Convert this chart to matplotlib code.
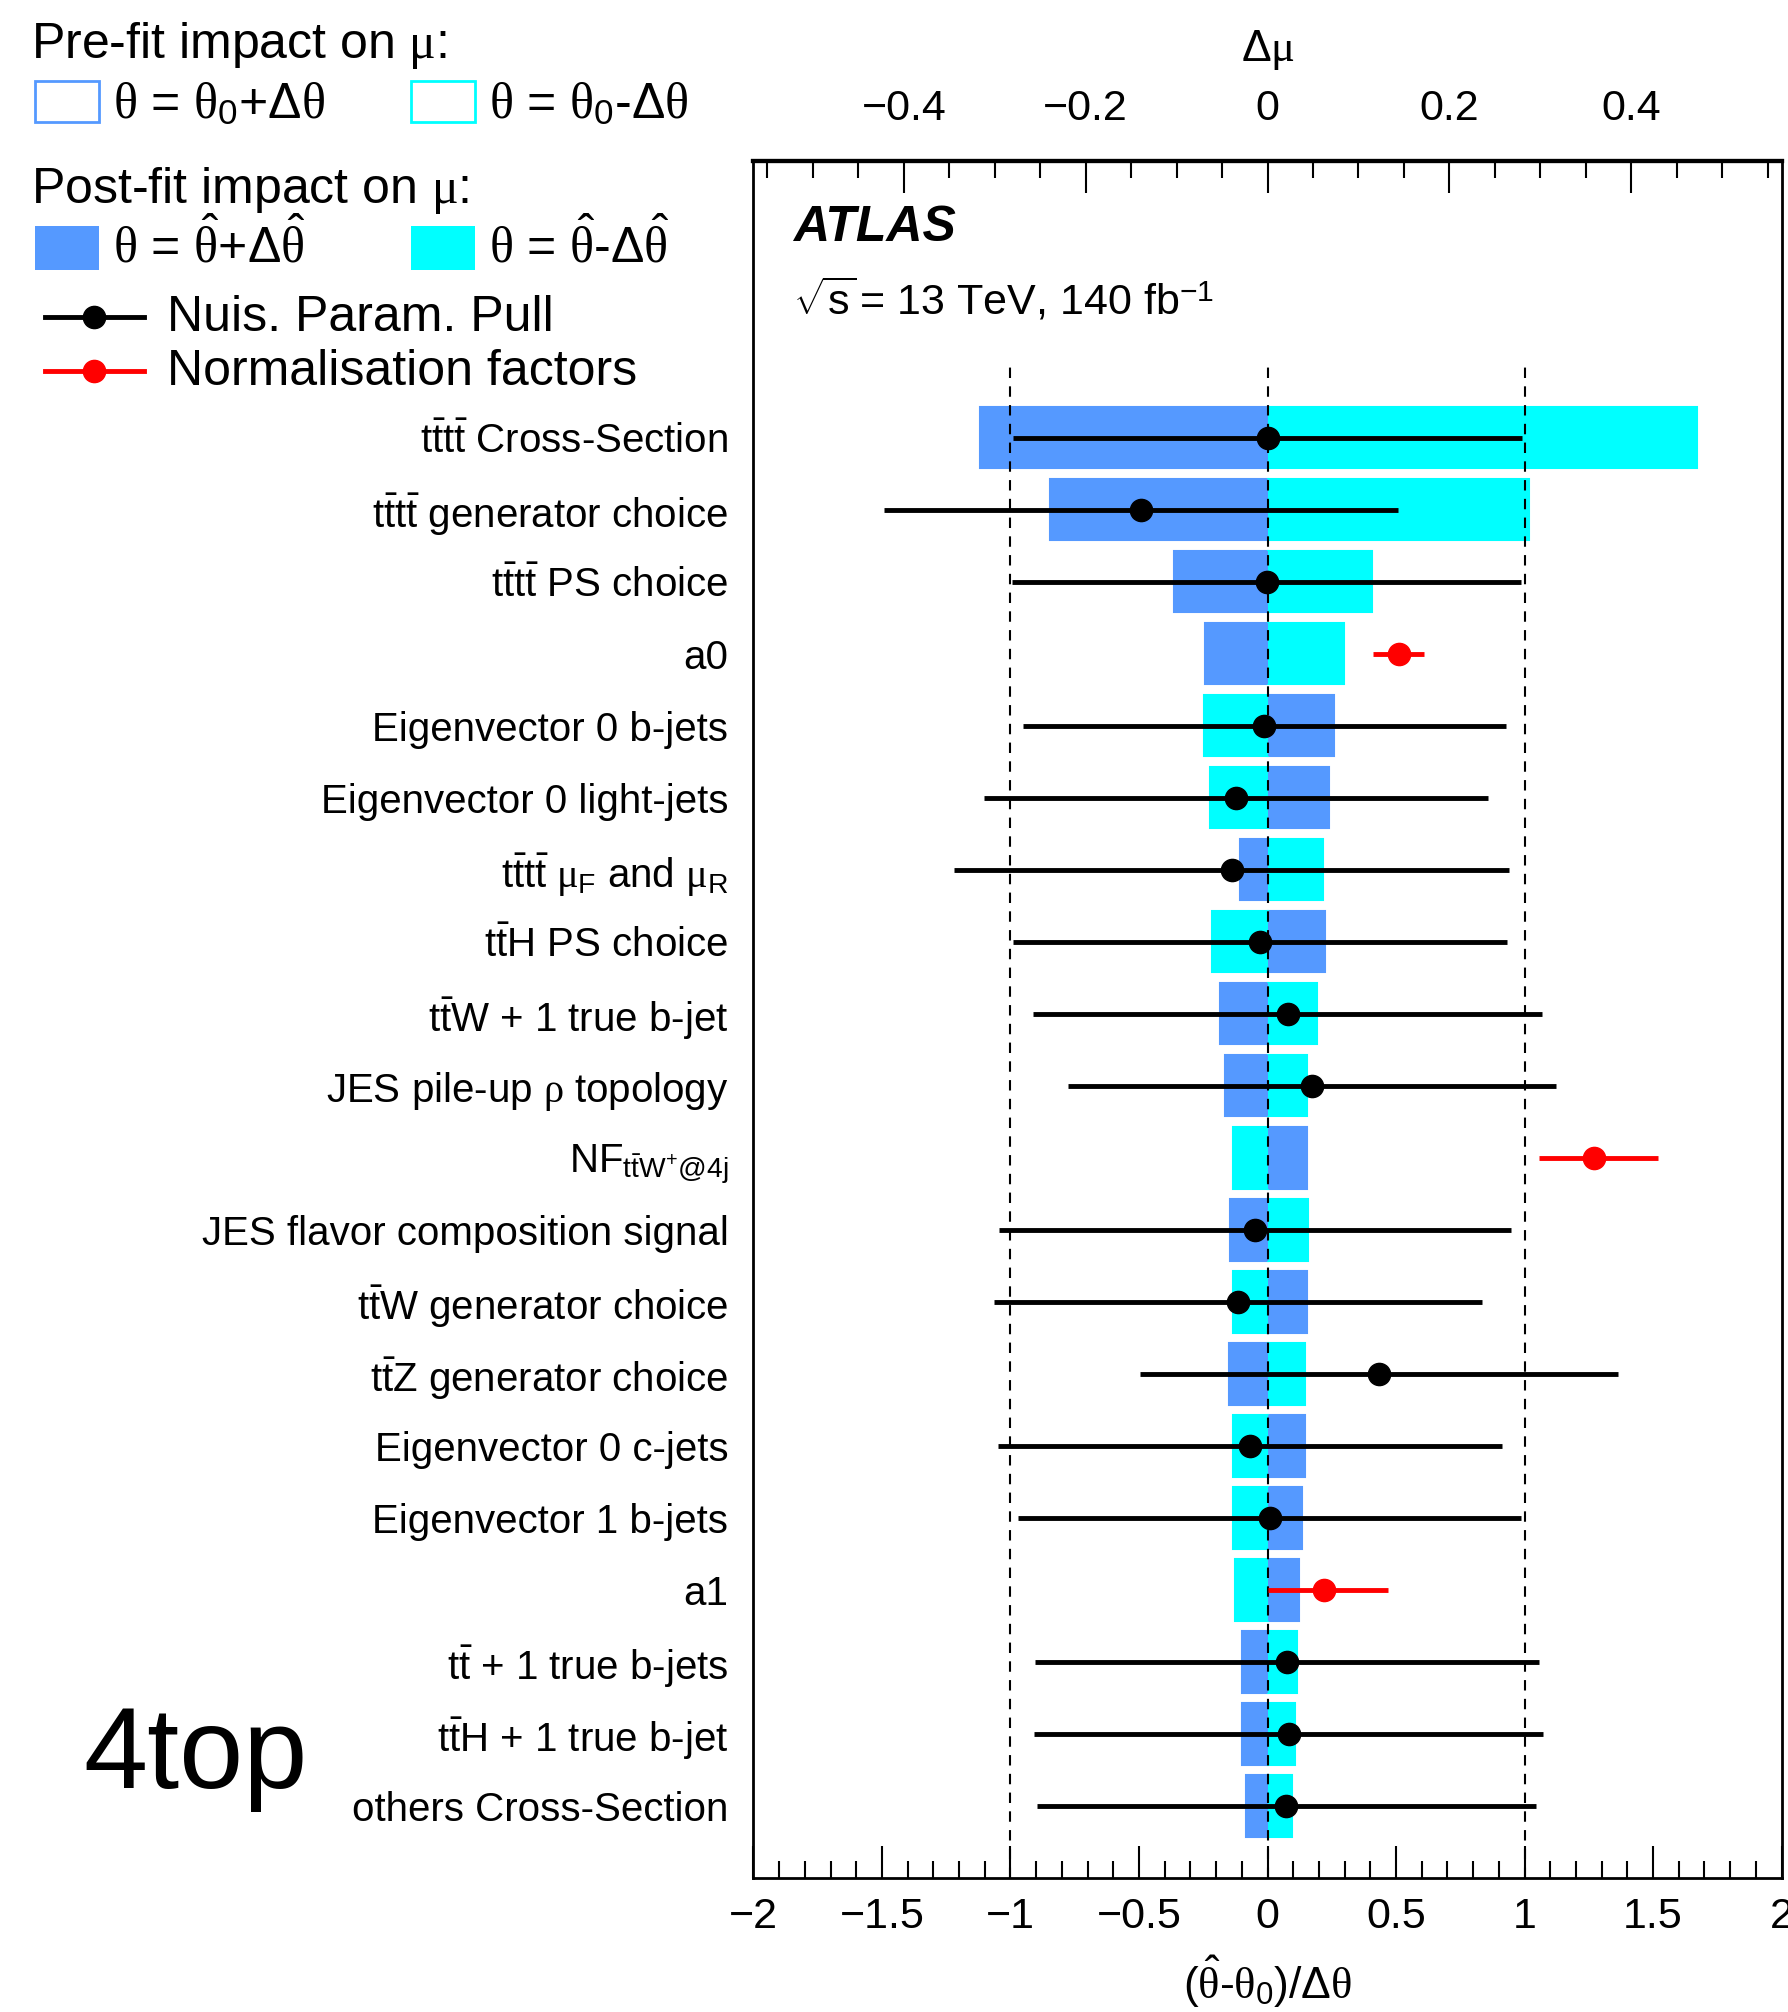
import numpy as np
import matplotlib.pyplot as plt
from matplotlib.patches import Rectangle
from matplotlib.lines import Line2D
from matplotlib.ticker import MultipleLocator, FixedLocator, FuncFormatter

plt.rcParams['font.family'] = ['Liberation Sans', 'DejaVu Sans']
plt.rcParams['mathtext.fontset'] = 'custom'
plt.rcParams['mathtext.rm'] = 'Liberation Sans'
plt.rcParams['mathtext.it'] = 'Liberation Serif'
plt.rcParams['mathtext.bf'] = 'Liberation Sans:bold'

# nuisance parameters, ranked from top to bottom
labels = [
    r'$\mathrm{t\bar{t}t\bar{t}}$ Cross-Section',
    r'$\mathrm{t\bar{t}t\bar{t}}$ generator choice',
    r'$\mathrm{t\bar{t}t\bar{t}}$ PS choice',
    'a0',
    'Eigenvector 0 b-jets',
    'Eigenvector 0 light-jets',
    r'$\mathrm{t\bar{t}t\bar{t}}\ \mu_{\mathrm{F}}$ and $\mu_{\mathrm{R}}$',
    r'$\mathrm{t\bar{t}H}$ PS choice',
    r'$\mathrm{t\bar{t}W}$ + 1 true b-jet',
    r'JES pile-up $\rho$ topology',
    r'$\mathrm{NF}_{\mathrm{t\bar{t}W^{+}@4j}}$',
    'JES flavor composition signal',
    r'$\mathrm{t\bar{t}W}$ generator choice',
    r'$\mathrm{t\bar{t}Z}$ generator choice',
    'Eigenvector 0 c-jets',
    'Eigenvector 1 b-jets',
    'a1',
    r'$\mathrm{t\bar{t}}$ + 1 true b-jets',
    r'$\mathrm{t\bar{t}H}$ + 1 true b-jet',
    'others Cross-Section',
]

# impact on mu (delta mu)
postfit_up = [-0.316, -0.239, -0.103, -0.069, 0.074, 0.068, -0.030, 0.063, -0.052, -0.047,
              0.043, -0.041, 0.043, -0.043, 0.041, 0.038, 0.035, -0.028, -0.028, -0.024]
postfit_dn = [0.472, 0.288, 0.115, 0.084, -0.071, -0.063, 0.061, -0.061, 0.054, 0.043,
              -0.038, 0.044, -0.038, 0.041, -0.038, -0.038, -0.036, 0.032, 0.030, 0.027]
prefit_up = [-0.316, -0.239, -0.103, -0.069, 0.073, 0.068, -0.030, 0.063, -0.052, -0.047,
             0.043, -0.041, 0.043, -0.042, 0.041, 0.038, 0.035, -0.028, -0.028, -0.024]
prefit_dn = [0.472, 0.288, 0.115, 0.084, -0.070, -0.063, 0.061, -0.061, 0.054, 0.043,
             -0.038, 0.044, -0.038, 0.041, -0.038, -0.038, -0.036, 0.032, 0.030, 0.027]

# pulls (nan for normalisation factors)
nan = np.nan
pull = [0.0, -0.492, -0.003, nan, -0.013, -0.122, -0.140, -0.029, 0.078, 0.172,
        nan, -0.049, -0.114, 0.432, -0.068, 0.008, nan, 0.075, 0.083, 0.073]
pull_err = [0.99, 1.0, 0.99, nan, 0.94, 0.98, 1.08, 0.96, 0.99, 0.95,
            nan, 0.995, 0.95, 0.93, 0.98, 0.98, nan, 0.98, 0.99, 0.97]

# normalisation factors
nf_rows = [3, 10, 16]
nf_val = [0.51, 1.272, 0.218]
nf_lo = [0.10, 0.216, 0.218]
nf_hi = [0.10, 0.249, 0.25]

blue = '#5599ff'
cyan = '#00ffff'
mu_scale = 0.2827  # delta mu per unit of the pull axis

n = len(labels)
ypos = np.arange(n)[::-1]

fig = plt.figure(figsize=(17.88, 20.12), dpi=100)
ax = fig.add_axes([0.4214, 0.0666, 0.575, 0.8536])

bh = 0.85
ax.barh(ypos, np.array(prefit_up) / mu_scale, height=bh, facecolor='none', edgecolor=blue, lw=1.5, zorder=1)
ax.barh(ypos, np.array(prefit_dn) / mu_scale, height=bh, facecolor='none', edgecolor=cyan, lw=1.5, zorder=1)
ax.barh(ypos, np.array(postfit_up) / mu_scale, height=bh, color=blue, lw=0, zorder=2)
ax.barh(ypos, np.array(postfit_dn) / mu_scale, height=bh, color=cyan, lw=0, zorder=2)

ax.vlines([-1, 0, 1], -1, 20, colors='k', linestyles=(0, (5, 4)), lw=1.5, zorder=3)

ax.errorbar(pull, ypos, xerr=pull_err, fmt='o', color='k', ms=16, elinewidth=3.5,
            capsize=0, zorder=4)
ax.errorbar(nf_val, ypos[nf_rows], xerr=[nf_lo, nf_hi], fmt='o', color='red', ms=16,
            elinewidth=3.5, capsize=0, zorder=4)

ax.set_xlim(-2, 2)
ax.set_ylim(-1, 22.85)

fmt = FuncFormatter(lambda v, _: ('%g' % round(v, 3)).replace('-', '\u2212'))
ax.xaxis.set_major_locator(MultipleLocator(0.5))
ax.xaxis.set_minor_locator(MultipleLocator(0.1))
ax.xaxis.set_major_formatter(fmt)
ax.tick_params(axis='x', which='both', direction='in', top=False, bottom=True,
               labelsize=31, pad=14, width=1.5)
ax.tick_params(axis='x', which='major', length=23)
ax.tick_params(axis='x', which='minor', length=12)
ax.set_yticks(ypos)
ax.set_yticklabels(labels)
ax.tick_params(axis='y', length=0, pad=18, labelsize=29)
ax.set_xlabel(r'$(\hat{\theta}$-$\theta_{\mathrm{0}})/\Delta\theta$', fontsize=32, labelpad=12)
for s in ['left', 'bottom', 'right']:
    ax.spines[s].set_linewidth(2)
ax.spines['top'].set_linewidth(3)

sec = ax.secondary_xaxis('top', functions=(lambda x: x * mu_scale, lambda x: x / mu_scale))
sec.xaxis.set_major_locator(FixedLocator([-0.4, -0.2, 0, 0.2, 0.4]))
sec.xaxis.set_minor_locator(MultipleLocator(0.05))
sec.xaxis.set_major_formatter(fmt)
sec.tick_params(axis='x', which='both', direction='in', labelsize=31, pad=23, width=1.5)
sec.tick_params(axis='x', which='major', length=23)
sec.tick_params(axis='x', which='minor', length=12)
sec.spines['top'].set_linewidth(3)
sec.set_xlabel(r'$\Delta\mu$', fontsize=32, labelpad=20)

fig.text(0.4435, 0.8802, 'ATLAS', fontsize=36, fontweight='bold', fontstyle='italic', va='baseline')
fig.text(0.4435, 0.8439, r'$\sqrt{\mathrm{s}}\,$= 13 TeV, 140 fb$^{\mathrm{-1}}$', fontsize=31, va='baseline')

# legend drawn in figure pixels
lg = fig.add_axes([0, 0, 1, 1])
lg.set_xlim(0, 1788)
lg.set_ylim(2012, 0)
lg.axis('off')
lg.patch.set_alpha(0)

lfs = 36
lg.text(31, 58, r'Pre-fit impact on $\mu$:', fontsize=lfs, va='baseline')
lg.add_patch(Rectangle((35, 81), 64, 41, facecolor='none', edgecolor=blue, lw=2))
lg.text(113, 118, r'$\theta$ = $\theta_{\mathrm{0}}$+$\Delta\theta$', fontsize=lfs, va='baseline')
lg.add_patch(Rectangle((411, 81), 64, 41, facecolor='none', edgecolor=cyan, lw=2))
lg.text(489, 118, r'$\theta$ = $\theta_{\mathrm{0}}$-$\Delta\theta$', fontsize=lfs, va='baseline')

lg.text(31, 203, r'Post-fit impact on $\mu$:', fontsize=lfs, va='baseline')
lg.add_patch(Rectangle((35, 226), 64, 44, facecolor=blue, edgecolor='none'))
lg.text(113, 262, r'$\theta$ = $\hat{\theta}$+$\Delta\hat{\theta}$', fontsize=lfs, va='baseline')
lg.add_patch(Rectangle((411, 226), 64, 44, facecolor=cyan, edgecolor='none'))
lg.text(489, 262, r'$\theta$ = $\hat{\theta}$-$\Delta\hat{\theta}$', fontsize=lfs, va='baseline')

lg.add_line(Line2D([45, 144], [317, 317], color='k', lw=3.5))
lg.plot([94], [317], 'o', color='k', ms=16)
lg.text(167, 331, 'Nuis. Param. Pull', fontsize=lfs, va='baseline')
lg.add_line(Line2D([45, 144], [371, 371], color='red', lw=3.5))
lg.plot([94], [371], 'o', color='red', ms=16)
lg.text(167, 385, 'Normalisation factors', fontsize=lfs, va='baseline')

lg.text(83, 1788, '4top', fontsize=83, va='baseline')

fig.savefig('out.png', dpi=100)
